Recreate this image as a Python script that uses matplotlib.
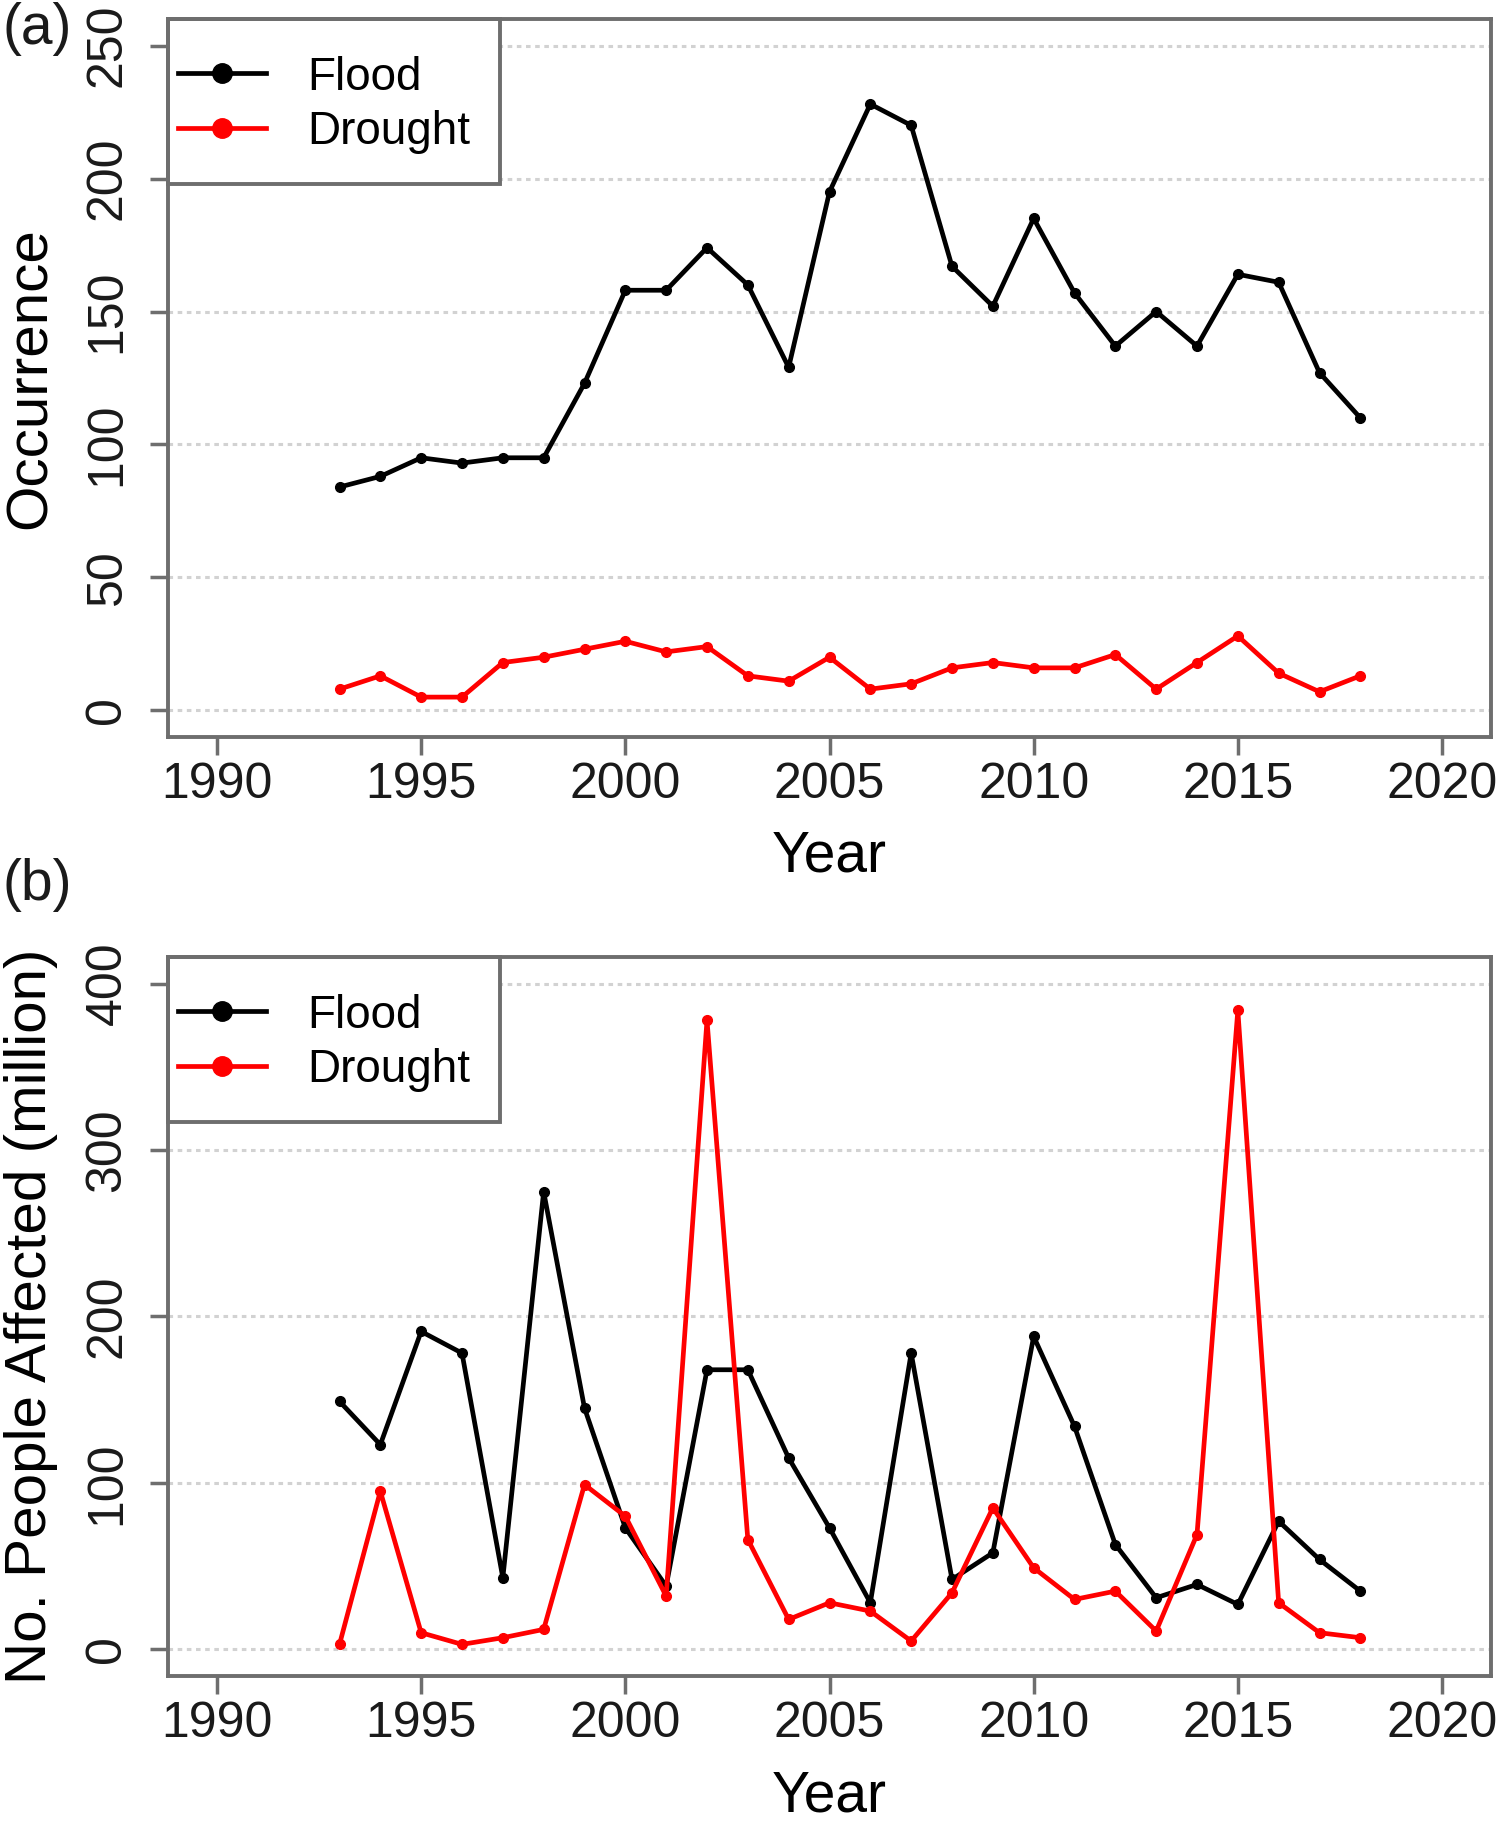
import matplotlib
matplotlib.use("Agg")
import matplotlib.pyplot as plt
from matplotlib.patches import Rectangle

plt.rcParams['font.family'] = ['Liberation Sans', 'DejaVu Sans']

years = list(range(1993, 2019))

flood_occ = [84, 88, 95, 93, 95, 95, 123, 158, 158, 174, 160, 129, 195, 228,
             220, 167, 152, 185, 157, 137, 150, 137, 164, 161, 127, 110]
drought_occ = [8, 13, 5, 5, 18, 20, 23, 26, 22, 24, 13, 11, 20, 8,
               10, 16, 18, 16, 16, 21, 8, 18, 28, 14, 7, 13]

flood_aff = [149, 123, 191, 178, 43, 275, 145, 73, 38, 168, 168, 115, 73, 28,
             178, 42, 58, 188, 134, 63, 31, 39, 27, 77, 54, 35]
drought_aff = [3, 95, 10, 3, 7, 12, 99, 80, 32, 378, 66, 18, 28, 23,
               5, 34, 85, 49, 30, 35, 11, 69, 384, 28, 10, 7]

xticks = [1990, 1995, 2000, 2005, 2010, 2015, 2020]
yticks_a = [0, 50, 100, 150, 200, 250]
yticks_b = [0, 100, 200, 300, 400]
series_labels = ['Flood', 'Drought']
series_colors = ['black', '#ff0000']

W, H = 1500, 1821
fig = plt.figure(figsize=(W / 100, H / 100), dpi=100)

frame_col = '#6e6e6e'
grid_col = '#d2d2d2'
AX_L, AX_R = 168, 1491


def style_axis(ax, yticks, ylim):
    ax.set_xlim(1988.8, 2021.2)
    ax.set_ylim(*ylim)
    ax.set_xticks(xticks)
    ax.set_yticks(yticks)
    for yv in yticks:
        ax.axhline(yv, color=grid_col, lw=2.2, ls=(0, (1.5, 1.5)), zorder=1)
    for s in ax.spines.values():
        s.set_color(frame_col)
        s.set_linewidth(2.8)
        s.set_zorder(6)
    ax.tick_params(axis='both', direction='out', length=13, width=2.5,
                   color=frame_col, labelsize=36, labelcolor='#1a1a1a')
    ax.tick_params(axis='x', pad=5)
    ax.tick_params(axis='y', pad=14)
    for lab in ax.get_yticklabels():
        lab.set_rotation(90)
        lab.set_va('center')


def draw_panel(ax, fl, dr, yticks, ylim, ylabel, top_px, bot_px):
    style_axis(ax, yticks, ylim)
    for vals, lab, col in zip([fl, dr], series_labels, series_colors):
        ax.plot(years, vals, color=col, lw=3.4, marker='o', ms=7,
                label=lab, zorder=3)
    axw = AX_R - AX_L
    axh = bot_px - top_px
    # legend frame (R style box in the top-left corner)
    box_w, box_h = 332, 165
    ax.add_patch(Rectangle((0, 1 - box_h / axh), box_w / axw, box_h / axh,
                           transform=ax.transAxes, facecolor='white',
                           edgecolor=frame_col, lw=2.8, zorder=4,
                           clip_on=False))
    row_h = 45
    first_center = 59
    leg = ax.legend(loc='upper left',
                    bbox_to_anchor=(10 / axw, 1 - (first_center - row_h / 2) / axh),
                    borderaxespad=0, frameon=False, fontsize=33,
                    handlelength=1.93, handletextpad=0.9, borderpad=0,
                    labelspacing=0.22, markerscale=2.0)
    leg.set_zorder(5)
    ax.set_xlabel('Year', fontsize=41, va='center')
    ax.xaxis.set_label_coords(0.5, -120 / axh)
    ax.set_ylabel(ylabel, fontsize=42, va='center')
    ax.yaxis.set_label_coords((31 - AX_L) / axw, 0.5)


ax1 = fig.add_axes([AX_L / W, 1 - 737 / H, (AX_R - AX_L) / W, (737 - 19) / H])
draw_panel(ax1, flood_occ, drought_occ, yticks_a, (-10, 260), 'Occurrence', 19, 737)

ax2 = fig.add_axes([AX_L / W, 1 - 1676 / H, (AX_R - AX_L) / W, (1676 - 957) / H])
draw_panel(ax2, flood_aff, drought_aff, yticks_b, (-16, 416),
           'No. People Affected (million)', 957, 1676)

fig.text(2 / W, 1 - 2 / H, '(a)', fontsize=41, va='top', ha='left', color='#1a1a1a')
fig.text(2 / W, 1 - 858 / H, '(b)', fontsize=41, va='top', ha='left', color='#1a1a1a')

fig.savefig('out.png', dpi=100, facecolor='white')
